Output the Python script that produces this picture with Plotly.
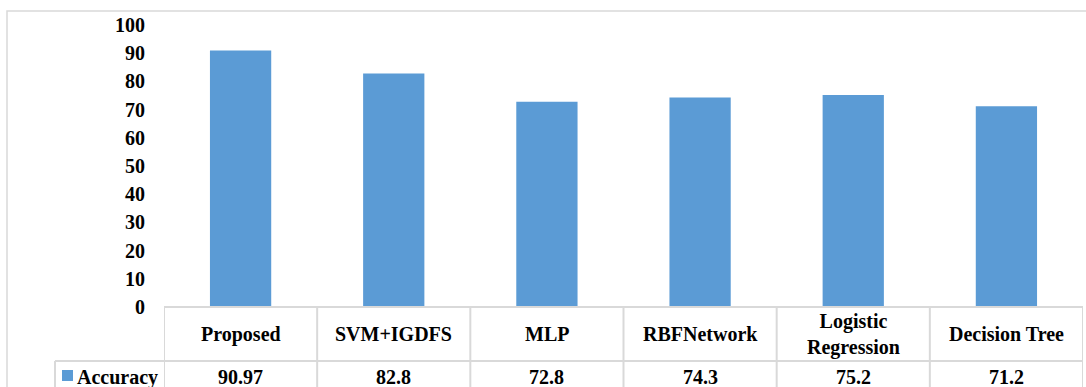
import plotly.graph_objects as go

# Data
categories = ["Proposed", "SVM+IGDFS", "MLP", "RBFNetwork", "Logistic<br>Regression", "Decision Tree"]
accuracy = [90.97, 82.8, 72.8, 74.3, 75.2, 71.2]
value_labels = ["90.97", "82.8", "72.8", "74.3", "75.2", "71.2"]
series_name = "Accuracy"
y_ticks = list(range(0, 101, 10))

BAR_COLOR = "#5B9BD5"
GRID_COLOR = "#D9D9D9"
FONT = dict(family="Liberation Serif, Times New Roman, serif", size=20, color="black", weight="bold")

W, H = 1086, 387
ML, MR, MT, MB = 164, 3, 25, 80
PW, PH = W - ML - MR, H - MT - MB


def px_x(p):
    return (p - ML) / PW


def px_y(p):
    return (H - MB - p) / PH


xs = list(range(len(categories)))

fig = go.Figure(go.Bar(
    x=xs, y=accuracy, marker=dict(color=BAR_COLOR, line=dict(width=0)),
    width=0.4, showlegend=False, hoverinfo="skip",
))

shapes = []
# outer chart border
shapes.append(dict(type="rect", xref="paper", yref="paper",
                   x0=px_x(7), x1=px_x(1200), y0=px_y(11), y1=px_y(500),
                   line=dict(color=GRID_COLOR, width=1.5), layer="below"))
# data table grid
tbl_top, row_sep, tbl_bot = px_y(307), px_y(361), px_y(420)
shapes.append(dict(type="line", xref="x", yref="paper", x0=-0.5, x1=len(xs) - 0.5,
                   y0=tbl_top, y1=tbl_top, line=dict(color=GRID_COLOR, width=2)))
shapes.append(dict(type="line", xref="paper", yref="paper", x0=px_x(55), x1=1,
                   y0=row_sep, y1=row_sep, line=dict(color=GRID_COLOR, width=2)))
for k in range(len(xs) + 1):
    shapes.append(dict(type="line", xref="x", yref="paper", x0=k - 0.5, x1=k - 0.5,
                       y0=tbl_top, y1=tbl_bot, line=dict(color=GRID_COLOR, width=2)))
shapes.append(dict(type="line", xref="paper", yref="paper", x0=px_x(55), x1=px_x(55),
                   y0=row_sep, y1=tbl_bot, line=dict(color=GRID_COLOR, width=2)))
# legend key
shapes.append(dict(type="rect", xref="paper", yref="paper",
                   x0=px_x(62), x1=px_x(73), y0=px_y(381), y1=px_y(370),
                   fillcolor=BAR_COLOR, line=dict(width=0)))

annotations = []
for i, (c, v) in enumerate(zip(categories, value_labels)):
    annotations.append(dict(x=i, y=px_y(334), xref="x", yref="paper", text=c,
                            showarrow=False, font=FONT, xanchor="center", yanchor="middle"))
    annotations.append(dict(x=i, y=px_y(377), xref="x", yref="paper", text=v,
                            showarrow=False, font=FONT, xanchor="center", yanchor="middle"))
annotations.append(dict(x=px_x(75), y=px_y(377), xref="paper", yref="paper", text=series_name,
                        showarrow=False, font=FONT, xanchor="left", yanchor="middle"))

fig.update_layout(
    width=W, height=H,
    margin=dict(l=ML, r=MR, t=MT, b=MB),
    paper_bgcolor="white", plot_bgcolor="white",
    bargap=0.6,
    xaxis=dict(range=[-0.5, len(xs) - 0.5], showticklabels=False, showgrid=False,
               zeroline=False, showline=False, ticks=""),
    yaxis=dict(range=[0, 100], tickvals=y_ticks, showgrid=False, zeroline=False,
               showline=False, ticks="", tickfont=FONT, ticklabelstandoff=18),
    shapes=shapes, annotations=annotations,
)

fig.write_html("out.html")
